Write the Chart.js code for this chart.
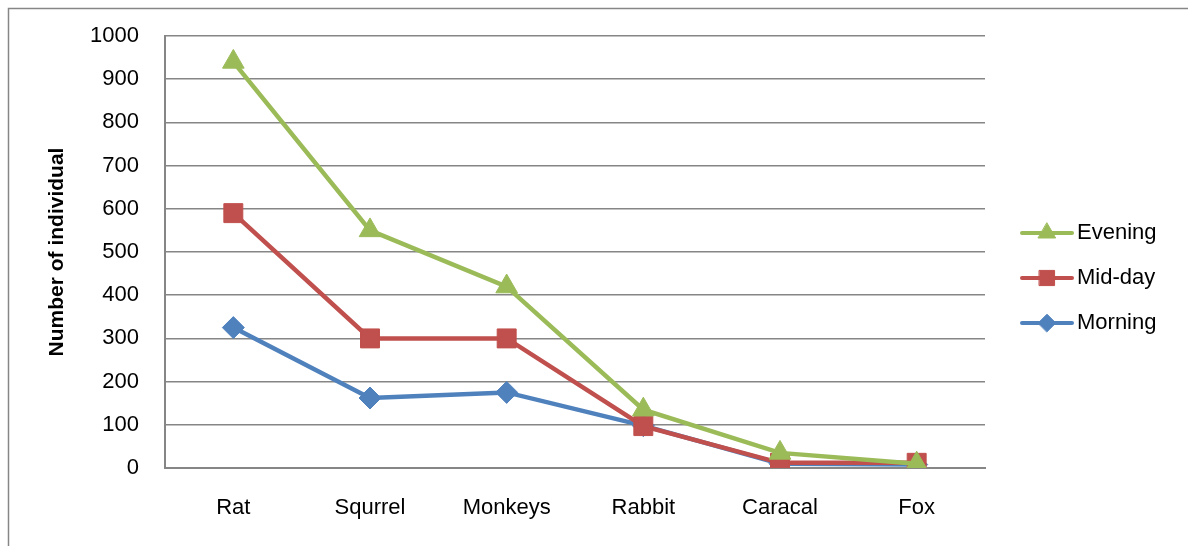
<!DOCTYPE html>
<html>
<head>
<meta charset="utf-8">
<script src="https://cdn.jsdelivr.net/npm/chart.js@4.4.1/dist/chart.umd.min.js"></script>
<style>
  html, body { margin: 0; padding: 0; background: #ffffff; }
  #wrap { position: relative; width: 1188px; height: 546px; }
  canvas { display: block; }
</style>
</head>
<body>
<div id="wrap"><canvas id="chart" width="1188" height="546"></canvas></div>
<script>
// Animals counted by time of day
const categories = ['Rat', 'Squrrel', 'Monkeys', 'Rabbit', 'Caracal', 'Fox'];
const evening = [940, 550, 420, 135, 35, 10];
const midday  = [590, 300, 300, 97, 12, 12];
const morning = [325, 162, 175, 98, 10, 8];
const yTicks  = [0, 100, 200, 300, 400, 500, 600, 700, 800, 900, 1000];

const FONT = '"Liberation Sans", Arial, sans-serif';
const GRID = '#868686';

const seriesStyle = [
  { label: 'Evening', data: evening, color: '#9BBB59', pointStyle: 'triangle', radius: 12.5 },
  { label: 'Mid-day', data: midday,  color: '#C0504D', pointStyle: 'rect',     radius: 13.4 },
  { label: 'Morning', data: morning, color: '#4F81BD', pointStyle: 'rectRot',  radius: 11 }
];

// Outer frame (top and left edges) plus a line-and-marker legend on the right
const decorations = {
  id: 'decorations',
  beforeDraw(chart) {
    const ctx = chart.ctx;
    ctx.save();
    ctx.strokeStyle = GRID;
    ctx.lineWidth = 1.5;
    ctx.beginPath();
    ctx.moveTo(8.5, 546);
    ctx.lineTo(8.5, 8.5);
    ctx.lineTo(1188, 8.5);
    ctx.stroke();
    ctx.restore();
  },
  afterDraw(chart) {
    const ctx = chart.ctx;
    const area = chart.chartArea;
    const x0 = area.right + 37;
    const yStart = 233;
    const gap = 45;
    ctx.save();
    chart.data.datasets.forEach((ds, i) => {
      const y = yStart + i * gap;
      ctx.strokeStyle = ds.borderColor;
      ctx.lineWidth = 4;
      ctx.lineCap = 'round';
      ctx.beginPath();
      ctx.moveTo(x0, y);
      ctx.lineTo(x0 + 50, y);
      ctx.stroke();
      ctx.fillStyle = ds.backgroundColor;
      ctx.strokeStyle = ds.borderColor;
      ctx.lineWidth = 1;
      Chart.helpers.drawPoint(ctx, {
        pointStyle: ds.pointStyle,
        radius: ds.pointRadius * 0.8,
        rotation: 0,
        borderWidth: 1
      }, x0 + 25, y);
      ctx.fillStyle = '#000000';
      ctx.font = '22px ' + FONT;
      ctx.textBaseline = 'middle';
      ctx.textAlign = 'left';
      ctx.fillText(ds.label, x0 + 55, y);
    });
    ctx.restore();
  }
};

new Chart(document.getElementById('chart'), {
  type: 'line',
  data: {
    labels: categories,
    datasets: seriesStyle.map(s => ({
      label: s.label,
      data: s.data,
      borderColor: s.color,
      backgroundColor: s.color,
      borderWidth: 4.5,
      pointStyle: s.pointStyle,
      pointRadius: s.radius,
      pointHoverRadius: s.radius,
      pointBorderWidth: 1,
      pointBackgroundColor: s.color,
      pointBorderColor: s.color,
      tension: 0
    }))
  },
  options: {
    responsive: false,
    animation: false,
    events: [],
    layout: { padding: { left: 0, right: 203, top: 36, bottom: 0 } },
    plugins: {
      legend: { display: false },
      tooltip: { enabled: false }
    },
    scales: {
      x: {
        offset: true,
        grid: { display: false, drawTicks: false },
        border: { display: true, color: GRID, width: 2 },
        ticks: {
          color: '#000000',
          font: { family: FONT, size: 22 },
          padding: 27,
          maxRotation: 0,
          autoSkip: false
        },
        afterFit(scale) { scale.height = 78; }
      },
      y: {
        min: 0,
        max: 1000,
        afterBuildTicks(scale) { scale.ticks = yTicks.map(v => ({ value: v })); },
        grid: { color: GRID, lineWidth: 1.5, drawTicks: false },
        border: { display: true, color: GRID, width: 2 },
        ticks: {
          color: '#000000',
          font: { family: FONT, size: 22 },
          padding: 26,
          callback: v => String(v)
        },
        title: {
          display: true,
          text: 'Number of individual',
          color: '#000000',
          font: { family: FONT, size: 21, weight: 'bold' },
          padding: { top: 45, bottom: 0 }
        },
        afterFit(scale) {
          scale.width = 165;
          scale.paddingTop = 0;
          scale.paddingBottom = 0;
        }
      }
    }
  },
  plugins: [decorations]
});
</script>
</body>
</html>
